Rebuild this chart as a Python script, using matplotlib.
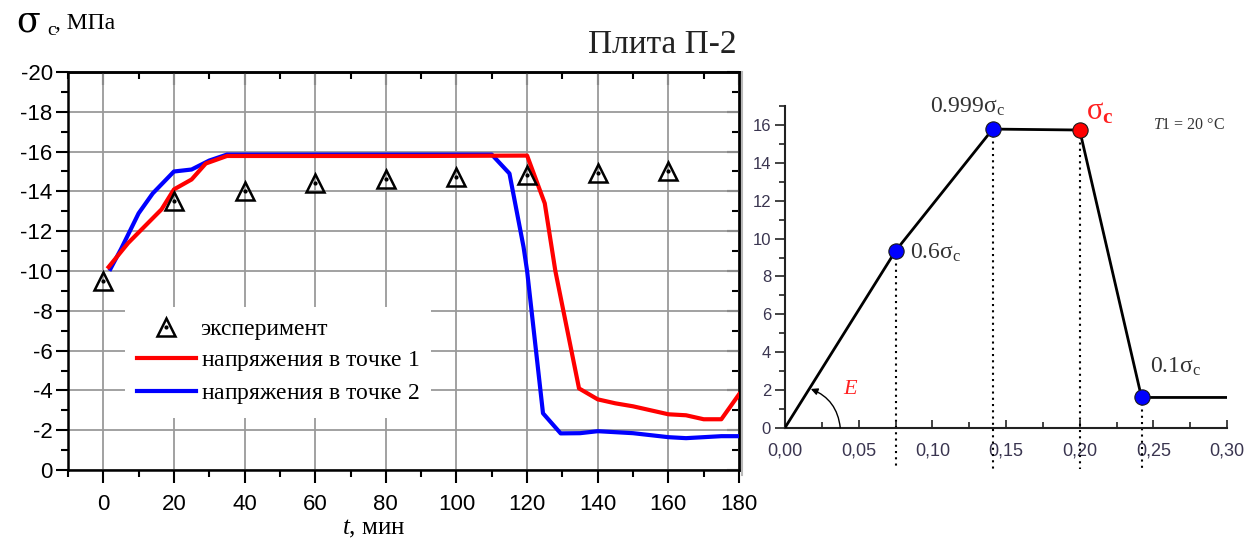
import matplotlib
matplotlib.use('Agg')
import matplotlib.pyplot as plt
from matplotlib.ticker import MultipleLocator, FuncFormatter
from matplotlib.lines import Line2D

plt.rcParams['font.family'] = ['Liberation Serif', 'DejaVu Serif']
plt.rcParams['mathtext.fontset'] = 'custom'
plt.rcParams['mathtext.rm'] = 'Liberation Serif'
plt.rcParams['mathtext.it'] = 'Liberation Serif:italic'
plt.rcParams['mathtext.bf'] = 'Liberation Serif:bold'
plt.rcParams['axes.unicode_minus'] = False

# --- left chart: stresses vs time ---
t_exp = [0, 20, 40, 60, 80, 100, 120, 140, 160]
s_exp = [-9.5, -13.5, -14.0, -14.4, -14.6, -14.7, -14.8, -14.9, -15.0]

t_p1 = [1.5, 7, 16.5, 20, 25, 29, 35, 60, 90, 120, 125, 128, 134.7, 140, 145, 150, 160, 165, 170, 175, 180]
s_p1 = [-10.2, -11.4, -13.1, -14.1, -14.6, -15.4, -15.78, -15.78, -15.78, -15.8, -13.4, -10.0, -4.1,
        -3.55, -3.35, -3.2, -2.8, -2.75, -2.55, -2.55, -3.8]

t_p2 = [2, 5, 10, 14, 20, 25, 30, 35, 70, 110, 115, 119, 120, 124.5, 129.5, 135, 140, 150, 160, 165, 170, 175, 180]
s_p2 = [-10.1, -11.1, -12.9, -13.9, -15.0, -15.1, -15.55, -15.85, -15.85, -15.85, -14.9, -11.2, -10.0,
        -2.85, -1.84, -1.85, -1.95, -1.85, -1.65, -1.6, -1.65, -1.7, -1.7]

# --- right chart: stress-strain diagram ---
strain = [0.0, 0.075, 0.141, 0.200, 0.242, 0.30]
stress = [0.0, 9.35, 15.8, 15.75, 1.6, 1.6]

W, H = 1255, 545
fig = plt.figure(figsize=(W / 100, H / 100), dpi=100)

ax = fig.add_axes([68 / W, 1 - 470 / H, 671 / W, 398 / H])
ax.plot(t_p2, s_p2, color='#0000ff', lw=3, zorder=3)
ax.plot(t_p1, s_p1, color='#ff0000', lw=3, zorder=4)
tri, = ax.plot(t_exp, s_exp, ls='none', marker='^', ms=13, mfc='none', mec='black', mew=1.8, zorder=5)
dot, = ax.plot(t_exp, s_exp, ls='none', marker='o', ms=2, color='black', zorder=5)
ax.set_xlim(-10, 180)
ax.set_ylim(0, -20)
ax.set_xticks(range(0, 181, 20))
ax.set_yticks(range(0, -21, -2))
ax.xaxis.set_minor_locator(MultipleLocator(10))
ax.yaxis.set_minor_locator(MultipleLocator(1))
ax.grid(True, which='major', color='#9a9a9a', lw=1.3)
ax.set_axisbelow(True)
ax.tick_params(which='both', direction='out', width=1.5, labelsize=16, colors='black')
ax.tick_params(which='major', length=9)
ax.tick_params(which='minor', length=5)
ax.tick_params(axis='x', pad=8)
ax.tick_params(axis='y', pad=2)
for lab in ax.get_xticklabels() + ax.get_yticklabels():
    lab.set_family(['Liberation Sans', 'DejaVu Sans'])
for sp in ax.spines.values():
    sp.set_linewidth(1.8)

top = ax.secondary_xaxis('top')
top.set_xticks(range(0, 181, 20))
top.xaxis.set_minor_locator(MultipleLocator(10))
top.tick_params(which='both', direction='in', width=1.5, labeltop=False)
top.tick_params(which='major', length=9)
top.tick_params(which='minor', length=5)
right = ax.secondary_yaxis('right')
right.set_yticks(range(0, -21, -2))
right.yaxis.set_minor_locator(MultipleLocator(1))
right.tick_params(which='both', direction='in', width=1.5, labelright=False)
right.tick_params(which='major', length=9)
right.tick_params(which='minor', length=5)
for sec in (top, right):
    for sp in sec.spines.values():
        sp.set_linewidth(1.8)

red_h = Line2D([], [], color='#ff0000', lw=3)
blue_h = Line2D([], [], color='#0000ff', lw=3)
leg = ax.legend([(tri, dot), red_h, blue_h],
                ['эксперимент', r'напряжения в точке $\mathit{1}$', r'напряжения в точке $\mathit{2}$'],
                loc='upper left', bbox_to_anchor=(0.085, 0.41), borderaxespad=0,
                fontsize=17, handlelength=2.5, handletextpad=0.2, labelspacing=0.38,
                borderpad=0.5, frameon=True, fancybox=False, framealpha=1,
                facecolor='white', edgecolor='none')
leg.set_zorder(6)

fig.text(662 / W, 1 - 45 / H, 'Плита П-2', fontsize=24, ha='center', va='center', color='#222222')
fig.text(16 / W, 1 - 31 / H, 'σ', fontsize=25, va='baseline', family='DejaVu Serif')
fig.text(47 / W, 1 - 35 / H, 'c', fontsize=14, va='baseline')
fig.text(55 / W, 1 - 29 / H, ', МПа', fontsize=17, va='baseline')
fig.text(342 / W, 1 - 534 / H, r'$\mathit{t}$, мин', fontsize=18, va='baseline')

# border of the inserted diagram
fig.add_artist(Line2D([742 / W, 742 / W], [1 - 72 / H, 1 - 475 / H], color='#b8b8b8', lw=1.5))

ax2 = fig.add_axes([785 / W, 1 - 427.7 / H, 442 / W, 321.3 / H])
ax2.plot(strain, stress, color='black', lw=2, zorder=3)
for i in (1, 2, 3, 4):
    ax2.plot([strain[i], strain[i]], [stress[i], -2.2], color='black', lw=1.5,
             ls=(0, (1, 2)), clip_on=False, zorder=2)
ax2.plot([strain[i] for i in (1, 2, 4)], [stress[i] for i in (1, 2, 4)], ls='none', marker='o',
         ms=11, mfc='#0000ff', mec='#1a1a1a', mew=0.8, clip_on=False, zorder=4)
ax2.plot([strain[3]], [stress[3]], ls='none', marker='o', ms=11, mfc='#ff0000', mec='#1a1a1a',
         mew=0.8, clip_on=False, zorder=4)
ax2.set_xlim(0, 0.30)
ax2.set_ylim(0, 17)
ax2.set_xticks([0, 0.05, 0.10, 0.15, 0.20, 0.25, 0.30])
ax2.set_yticks(range(0, 17, 2))
ax2.xaxis.set_minor_locator(MultipleLocator(0.025))
ax2.yaxis.set_minor_locator(MultipleLocator(1))
ax2.xaxis.set_major_formatter(FuncFormatter(lambda v, p: f'{v:.2f}'.replace('.', ',')))
ax2.spines['top'].set_visible(False)
ax2.spines['right'].set_visible(False)
for sp in ('left', 'bottom'):
    ax2.spines[sp].set_linewidth(1.5)
    ax2.spines[sp].set_color('#222222')
ax2.tick_params(axis='x', which='both', direction='in', width=1.2, labelsize=13, pad=11,
                colors='#222222', labelcolor='#3a3550')
ax2.tick_params(axis='x', which='major', length=6)
ax2.tick_params(axis='x', which='minor', length=4)
ax2.tick_params(axis='y', which='both', direction='out', width=1.2, labelsize=12, pad=3,
                colors='#222222', labelcolor='#3a3550')
ax2.tick_params(axis='y', which='major', length=7)
ax2.tick_params(axis='y', which='minor', length=4)
for lab in ax2.get_xticklabels() + ax2.get_yticklabels():
    lab.set_family(['Liberation Sans', 'DejaVu Sans'])
ax2.patch.set_visible(False)

ax2.text(0.124, 17.0, r'0.999$\mathrm{σ}_{\rm c}$', fontsize=17, ha='center', va='center',
         color='#333333', clip_on=False)
ax2.text(0.085, 9.25, r'0.6$\mathrm{σ}_{\rm c}$', fontsize=17, ha='left', va='center', color='#333333')
ax2.text(0.2475, 3.2, r'0.1$\mathrm{σ}_{\rm c}$', fontsize=17, ha='left', va='center', color='#333333')
ax2.text(0.204, 16.7, r'$\mathrm{σ}_{\mathbf{c}}$', fontsize=22, ha='left', va='center',
         color='#ff2020', clip_on=False)
ax2.text(0.25, 16.0, r'$\mathit{T}$1 = 20 °C', fontsize=11.5, ha='left', va='center', color='#333333')
ax2.text(0.0395, 2.0, r'$\mathit{E}$', fontsize=16, ha='left', va='center', color='#ff2020')
ax2.annotate('', xy=(0.0175, 2.05), xytext=(0.0375, 0.0),
             arrowprops=dict(arrowstyle='-|>', connectionstyle='arc3,rad=0.3', color='black',
                             lw=1, mutation_scale=10, shrinkA=0, shrinkB=0))

fig.savefig('out.png', dpi=100)
